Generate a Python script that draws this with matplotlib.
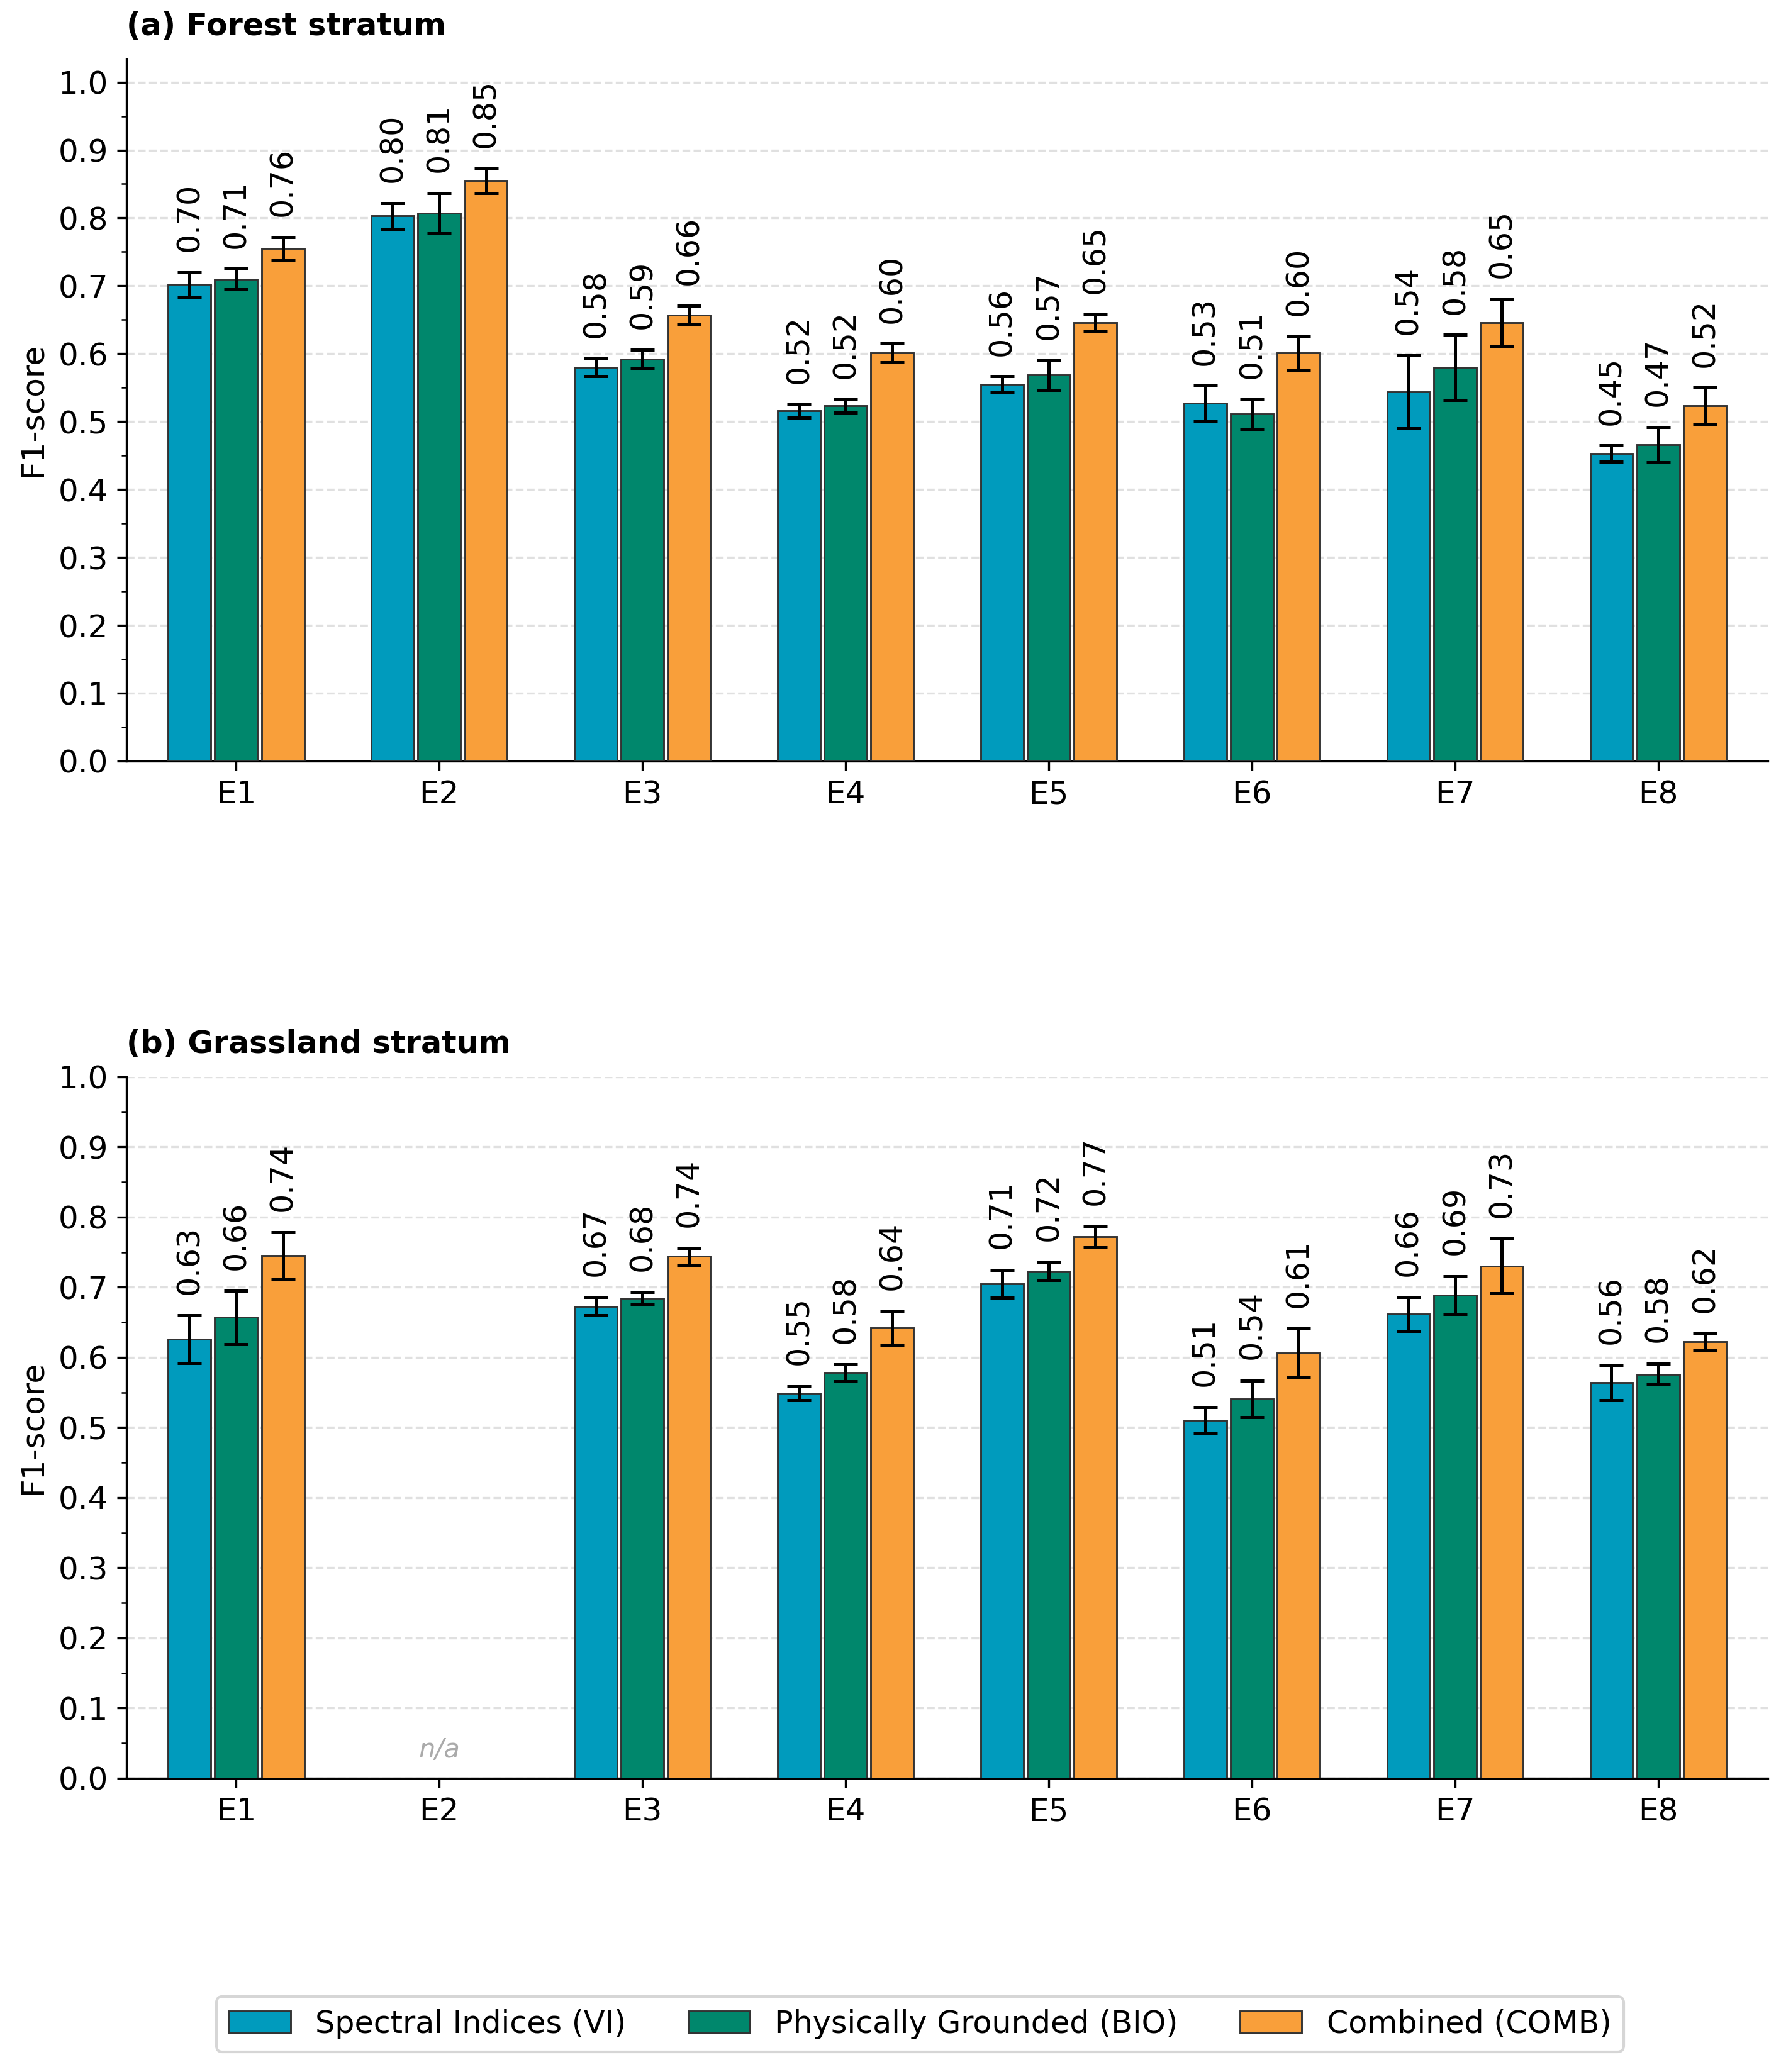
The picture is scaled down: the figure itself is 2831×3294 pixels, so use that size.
import numpy as np
import matplotlib
matplotlib.use("Agg")
import matplotlib.pyplot as plt
from matplotlib.ticker import MultipleLocator, AutoMinorLocator

# experiments
experiments = ["E1", "E2", "E3", "E4", "E5", "E6", "E7", "E8"]
series_names = ["Spectral Indices (VI)", "Physically Grounded (BIO)", "Combined (COMB)"]
colors = ["#009BBD", "#00876C", "#F99F3A"]

# (a) forest stratum: mean F1 and error
forest_vi = [0.702, 0.803, 0.580, 0.516, 0.555, 0.527, 0.544, 0.453]
forest_bio = [0.710, 0.807, 0.592, 0.523, 0.569, 0.511, 0.580, 0.466]
forest_comb = [0.755, 0.855, 0.657, 0.601, 0.646, 0.601, 0.646, 0.523]
forest_vi_err = [0.018, 0.019, 0.013, 0.010, 0.012, 0.026, 0.054, 0.012]
forest_bio_err = [0.015, 0.030, 0.014, 0.010, 0.022, 0.022, 0.048, 0.026]
forest_comb_err = [0.017, 0.018, 0.014, 0.014, 0.012, 0.025, 0.035, 0.027]
forest_labels_vi = ["0.70", "0.80", "0.58", "0.52", "0.56", "0.53", "0.54", "0.45"]
forest_labels_bio = ["0.71", "0.81", "0.59", "0.52", "0.57", "0.51", "0.58", "0.47"]
forest_labels_comb = ["0.76", "0.85", "0.66", "0.60", "0.65", "0.60", "0.65", "0.52"]

# (b) grassland stratum (E2 not available)
grass_vi = [0.626, np.nan, 0.673, 0.549, 0.705, 0.510, 0.662, 0.564]
grass_bio = [0.657, np.nan, 0.684, 0.578, 0.723, 0.541, 0.689, 0.576]
grass_comb = [0.745, np.nan, 0.744, 0.642, 0.772, 0.606, 0.730, 0.622]
grass_vi_err = [0.034, np.nan, 0.013, 0.010, 0.020, 0.019, 0.024, 0.025]
grass_bio_err = [0.038, np.nan, 0.009, 0.012, 0.013, 0.026, 0.027, 0.015]
grass_comb_err = [0.033, np.nan, 0.012, 0.024, 0.015, 0.035, 0.039, 0.012]
grass_labels_vi = ["0.63", "", "0.67", "0.55", "0.71", "0.51", "0.66", "0.56"]
grass_labels_bio = ["0.66", "", "0.68", "0.58", "0.72", "0.54", "0.69", "0.58"]
grass_labels_comb = ["0.74", "", "0.74", "0.64", "0.77", "0.61", "0.73", "0.62"]

plt.rcParams['font.family'] = ['DejaVu Sans']

fig = plt.figure(figsize=(2831 / 300, 3294 / 300), dpi=300)
ax_a = fig.add_axes([0.0710, 0.6327, 0.9216, 0.3388])
ax_b = fig.add_axes([0.0710, 0.1418, 0.9216, 0.3385])

x = np.arange(len(experiments))
offsets = [-0.23, 0.0, 0.23]
width = 0.21


def draw_panel(ax, means, errs, labels, title, ytop):
    handles = []
    for k in range(3):
        m = np.array(means[k], dtype=float)
        e = np.array(errs[k], dtype=float)
        b = ax.bar(x + offsets[k], np.nan_to_num(m), width, color=colors[k],
                   edgecolor="#333333", linewidth=0.7, label=series_names[k],
                   zorder=3)
        ok = ~np.isnan(m)
        ax.errorbar(x[ok] + offsets[k], m[ok], yerr=e[ok], fmt="none",
                    ecolor="black", elinewidth=1.2, capsize=4.5, capthick=1.2,
                    zorder=4)
        for i in np.where(ok)[0]:
            ax.text(x[i] + offsets[k], m[i] + e[i] + 0.03, labels[k][i],
                    rotation=90, ha="center", va="bottom", fontsize=11.8,
                    zorder=5)
        handles.append(b)

    ax.set_xlim(-0.54, 7.54)
    ax.set_ylim(0, ytop)
    ax.set_xticks(x)
    ax.set_xticklabels(experiments, fontsize=12)
    ax.yaxis.set_major_locator(MultipleLocator(0.1))
    ax.yaxis.set_minor_locator(AutoMinorLocator(2))
    ax.tick_params(axis="y", labelsize=12)
    ax.set_ylabel("F1-score", fontsize=12)
    ax.grid(axis="y", linestyle="--", color="#cccccc", alpha=0.6, linewidth=0.8)
    ax.set_axisbelow(True)
    ax.spines["top"].set_visible(False)
    ax.spines["right"].set_visible(False)
    ax.set_title(title, loc="left", fontsize=11.8, fontweight="bold", pad=9)
    return handles


handles = draw_panel(ax_a, [forest_vi, forest_bio, forest_comb],
                     [forest_vi_err, forest_bio_err, forest_comb_err],
                     [forest_labels_vi, forest_labels_bio, forest_labels_comb],
                     "(a) Forest stratum", 1.034)

draw_panel(ax_b, [grass_vi, grass_bio, grass_comb],
           [grass_vi_err, grass_bio_err, grass_comb_err],
           [grass_labels_vi, grass_labels_bio, grass_labels_comb],
           "(b) Grassland stratum", 1.0)

ax_b.text(1, 0.04, "n/a", ha="center", va="center", fontsize=10,
          style="italic", color="#aaaaaa")

fig.legend(handles, series_names, loc="center", bbox_to_anchor=(0.5165, 0.0231),
           ncol=3, fontsize=11.8, frameon=True, columnspacing=2.0)

fig.savefig("out.png", dpi=300)
